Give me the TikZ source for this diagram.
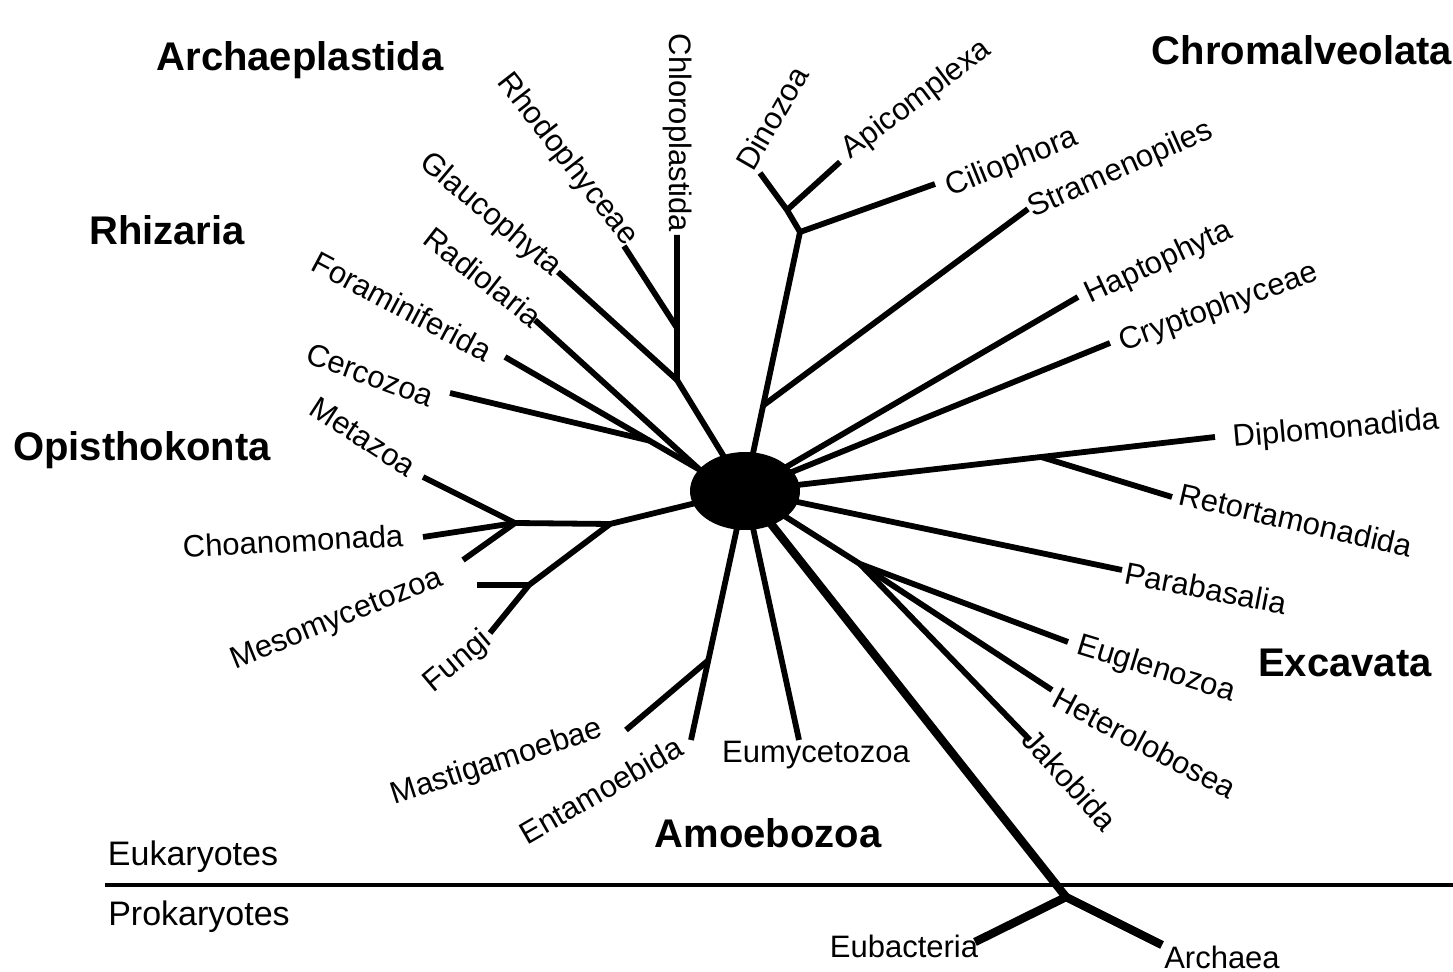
\documentclass[tikz,border=0pt]{standalone}
\usepackage{fontspec}
\setmainfont{Liberation Sans}
\usetikzlibrary{shapes.geometric,calc}

\begin{document}
\begin{tikzpicture}[x=0.5pt,y=-0.5pt,
	br/.style={line width=2.9pt},
	trunk/.style={line width=4.2pt},
	taxon/.style={inner sep=0pt,font=\fontsize{15.5}{18}\selectfont},
	kingdom/.style={inner sep=0pt,font=\fontsize{17}{20}\selectfont},
	clade/.style={inner sep=0pt,font=\fontsize{20}{24}\selectfont\bfseries}]
\useasboundingbox[fill=white] (0,0) rectangle (1453,972);

\node[ellipse,fill=black,inner sep=0pt,minimum width=55pt,minimum height=39pt](euk) at (745,491){};

% Archaeplastida
\coordinate (chlE) at (677,235);
\coordinate (archJ) at (677,380);
\coordinate (rhoE) at (624,246);
\coordinate (rhoJ) at (677,328);
\coordinate (glaE) at (558,272);
\draw[br] (euk.center) -- (archJ) -- (chlE);
\draw[br] (rhoE) -- (rhoJ);
\draw[br] (glaE) -- (archJ);

% Rhizaria
\coordinate (rhzJ) at (700,470);
\coordinate (radE) at (535,320);
\coordinate (forE) at (505,357);
\coordinate (cerE) at (450,393);
\draw[br] (euk.center) -- (rhzJ) -- (radE);
\draw[br] (rhzJ) -- (forE);
\draw[br] (cerE) -- ($(rhzJ)!0.26!(forE)$);

% Opisthokonta
\coordinate (opiJ) at (610,524);
\coordinate (holJ) at (515,523);
\coordinate (metE) at (423,477);
\coordinate (choE) at (423,537);
\coordinate (icE) at (463,560);
\coordinate (funJ) at (529,585);
\coordinate (funE) at (490,633);
\coordinate (mesE) at (477,585);
\draw[br] (euk.center) -- (opiJ) -- (holJ);
\draw[br] (holJ) -- (metE);
\draw[br] (holJ) -- (choE);
\draw[br] (holJ) -- (icE);
\draw[br] (opiJ) -- (funJ) -- (funE);
\draw[br] (mesE) -- (funJ);

% Amoebozoa
\coordinate (entE) at (691,740);
\coordinate (masE) at (626,730);
\coordinate (eumE) at (799,740);
\draw[br] (entE) -- (euk.center);
\draw[br] (masE) -- ($(entE)!0.32!(euk.center)$);
\draw[br] (eumE) -- (euk.center);

% Chromalveolata
\coordinate (chrJ) at (800,232);
\coordinate (alvJ) at (787,210);
\coordinate (dinE) at (760,173);
\coordinate (apiE) at (840,162);
\coordinate (cilE) at (935,184);
\coordinate (strE) at (1028,209);
\coordinate (hapE) at (1078,297);
\coordinate (cryE) at (1110,343);
\draw[br] (euk.center) -- (chrJ) -- (alvJ) -- (dinE);
\draw[br] (apiE) -- (alvJ);
\draw[br] (cilE) -- (chrJ);
\draw[br] (strE) -- ($(chrJ)!0.67!(euk.center)$);
\draw[br] (hapE) -- (euk.center);
\draw[br] (cryE) -- (euk.center);

% Excavata
\coordinate (dipE) at (1215,437);
\coordinate (retE) at (1172,497);
\coordinate (parE) at (1122,570);
\coordinate (excJ) at (860,564);
\coordinate (eugE) at (1068,642);
\coordinate (hetE) at (1052,690);
\coordinate (jakE) at (1030,740);
\draw[br] (dipE) -- (euk.center);
\draw[br] (retE) -- ($(dipE)!0.37!(euk.center)$);
\draw[br] (parE) -- (euk.center);
\draw[br] (euk.center) -- (excJ) -- (eugE);
\draw[br] (excJ) -- (hetE);
\draw[br] (excJ) -- (jakE);

% prokaryotes
\coordinate (divW) at (105,885);
\coordinate (divE) at (1453,885);
\coordinate (lcaJ) at (1066,897);
\coordinate (eubE) at (975,942);
\coordinate (arcE) at (1162,945);
\draw[line width=2pt] (divW) -- (divE);
\draw[trunk] (euk.center) -- (lcaJ) -- (eubE);
\draw[trunk] (lcaJ) -- (arcE);

% labels
\node[taxon,rotate=-90] (chloro) at (678,133) {Chloroplastida};
\node[taxon,rotate=-52] (rhodo) at (567,160) {Rhodophyceae};
\node[taxon,rotate=-40] (glauco) at (490,215) {Glaucophyta};
\node[taxon,rotate=-38] (radio) at (483,277) {Radiolaria};
\node[taxon,rotate=-28] (forami) at (402,306) {Foraminiferida};
\node[taxon,rotate=-20] (cerco) at (370,375) {Cercozoa};
\node[taxon,rotate=-33] (meta) at (363,437) {Metazoa};
\node[taxon,rotate=3] (choano) at (293,541) {Choanomonada};
\node[taxon,rotate=22] (mesomy) at (337,620) {Mesomycetozoa};
\node[taxon,rotate=40] (fungi) at (458,662) {Fungi};
\node[taxon,rotate=18] (mastig) at (497,763) {Mastigamoebae};
\node[taxon,rotate=30] (entam) at (601,790) {Entamoebida};
\node[taxon] (eumyc) at (816,755) {Eumycetozoa};
\node[taxon,rotate=60] (dino) at (772,118) {Dinozoa};
\node[taxon,rotate=37] (apicom) at (917,100) {Apicomplexa};
\node[taxon,rotate=22] (cilio) at (1012,163) {Ciliophora};
\node[taxon,rotate=24] (strameno) at (1121,170) {Stramenopiles};
\node[taxon,rotate=25] (hapto) at (1159,263) {Haptophyta};
\node[taxon,rotate=20] (crypto) at (1219,308) {Cryptophyceae};
\node[taxon,rotate=5] (diplo) at (1336,430) {Diplomonadida};
\node[taxon,rotate=-13] (retorta) at (1296,520) {Retortamonadida};
\node[taxon,rotate=-11] (paraba) at (1206,588) {Parabasalia};
\node[taxon,rotate=-17] (eugleno) at (1156,670) {Euglenozoa};
\node[taxon,rotate=-28] (hetero) at (1145,743) {Heterolobosea};
\node[taxon,rotate=-48] (jakob) at (1070,780) {Jakobida};
\node[taxon] (eubact) at (904,946) {Eubacteria};
\node[taxon] (archaea) at (1222,957) {Archaea};

\node[kingdom] (eukar) at (193,857) {Eukaryotes};
\node[kingdom] (prokar) at (199,917) {Prokaryotes};

\node[clade] (archaep) at (300,60) {Archaeplastida};
\node[clade] (rhiz) at (167,230) {Rhizaria};
\node[clade] (opist) at (142,450) {Opisthokonta};
\node[clade] (chromal) at (1302,50) {Chromalveolata};
\node[clade] (excav) at (1345,663) {Excavata};
\node[clade] (amoeb) at (768,833) {Amoebozoa};
\end{tikzpicture}
\end{document}
